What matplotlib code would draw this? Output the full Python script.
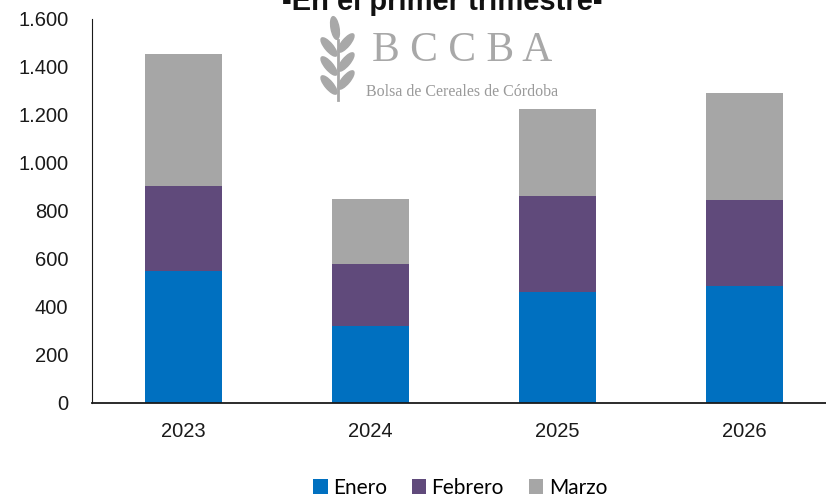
import matplotlib
matplotlib.use("Agg")
import matplotlib.pyplot as plt
from matplotlib.patches import Ellipse
from matplotlib.lines import Line2D
from matplotlib.ticker import FuncFormatter
import numpy as np

years = ["2023", "2024", "2025", "2026"]
enero = [550, 322, 462, 489]
febrero = [354, 256, 402, 355]
marzo = [550, 272, 361, 448]
series_names = ["Enero", "Febrero", "Marzo"]
colors = ["#0070C0", "#604A7B", "#A6A6A6"]
title = "-En el primer trimestre-"

plt.rcParams['font.family'] = ['Liberation Sans', 'DejaVu Sans']

fig = plt.figure(figsize=(8.26, 5.03), dpi=100)
ax = fig.add_axes([92/826, 1-403/503, (826-92)/826, 384/503])

x = np.arange(len(years))
w = 0.41
bottom = np.zeros(len(years))
handles = []
for vals, name, c in zip([enero, febrero, marzo], series_names, colors):
    b = ax.bar(x, vals, w, bottom=bottom, color=c, label=name, zorder=2)
    handles.append(b)
    bottom += np.array(vals)

ax.set_ylim(0, 1600)
ax.set_xlim(-0.49, 3.435)
ax.set_yticks(np.arange(0, 1601, 200))
ax.yaxis.set_major_formatter(FuncFormatter(lambda v, p: f"{int(v):,}".replace(",", ".")))
ax.set_xticks(x)
ax.set_xticklabels(years)
ax.tick_params(axis='both', length=0, labelsize=14.5, colors='#1a1a1a')
ax.tick_params(axis='y', pad=17)
ax.tick_params(axis='x', pad=14)
for s in ["top", "right"]:
    ax.spines[s].set_visible(False)
ax.spines["left"].set_color("#1a1a1a")
ax.spines["bottom"].set_color("#1a1a1a")
ax.spines["bottom"].set_linewidth(1.3)

# title (cut at top in reference)
fig.text(442/826, 1-10/503, title, ha='center', va='baseline', fontsize=21,
         fontweight='bold', color='#111111')

# watermark
wm = '#A8A8A8'
fig.text(462/826, 1-51/503, "B C C B A", ha='center', va='center', fontsize=30,
         family='Liberation Serif', color=wm, zorder=5)
fig.text(462/826, 1-92/503, "Bolsa de Cereales de Córdoba", ha='center', va='center',
         fontsize=11.5, family='Liberation Serif', color='#9A9A9A', zorder=5)

# wheat logo, drawn in pixel units (inches = px / 100)
T = fig.dpi_scale_trans
def px(xp, yp):
    return (xp / 100.0, (503 - yp) / 100.0)
fig.add_artist(Line2D([338/100, 338/100], [(503-40)/100, (503-100)/100],
                      transform=T, color=wm, lw=2))
leaves = [((329, 47), 130), ((329, 66), 130), ((329, 85), 130),
          ((346, 43), 50), ((346, 62), 50), ((346, 80), 50),
          ((335, 28), 100)]
for (cx, cy), ang in leaves:
    fig.add_artist(Ellipse(px(cx, cy), 0.23, 0.08, angle=ang, transform=T,
                           color=wm))

leg = fig.legend(handles=handles, labels=series_names, loc='center',
                 bbox_to_anchor=(460/826, 1-488/503), ncol=3, frameon=False,
                 handlelength=0.7, handleheight=0.7, handletextpad=0.25,
                 columnspacing=1.2, prop={'family': 'Lato', 'size': 15})

fig.savefig("out.png", dpi=100)
